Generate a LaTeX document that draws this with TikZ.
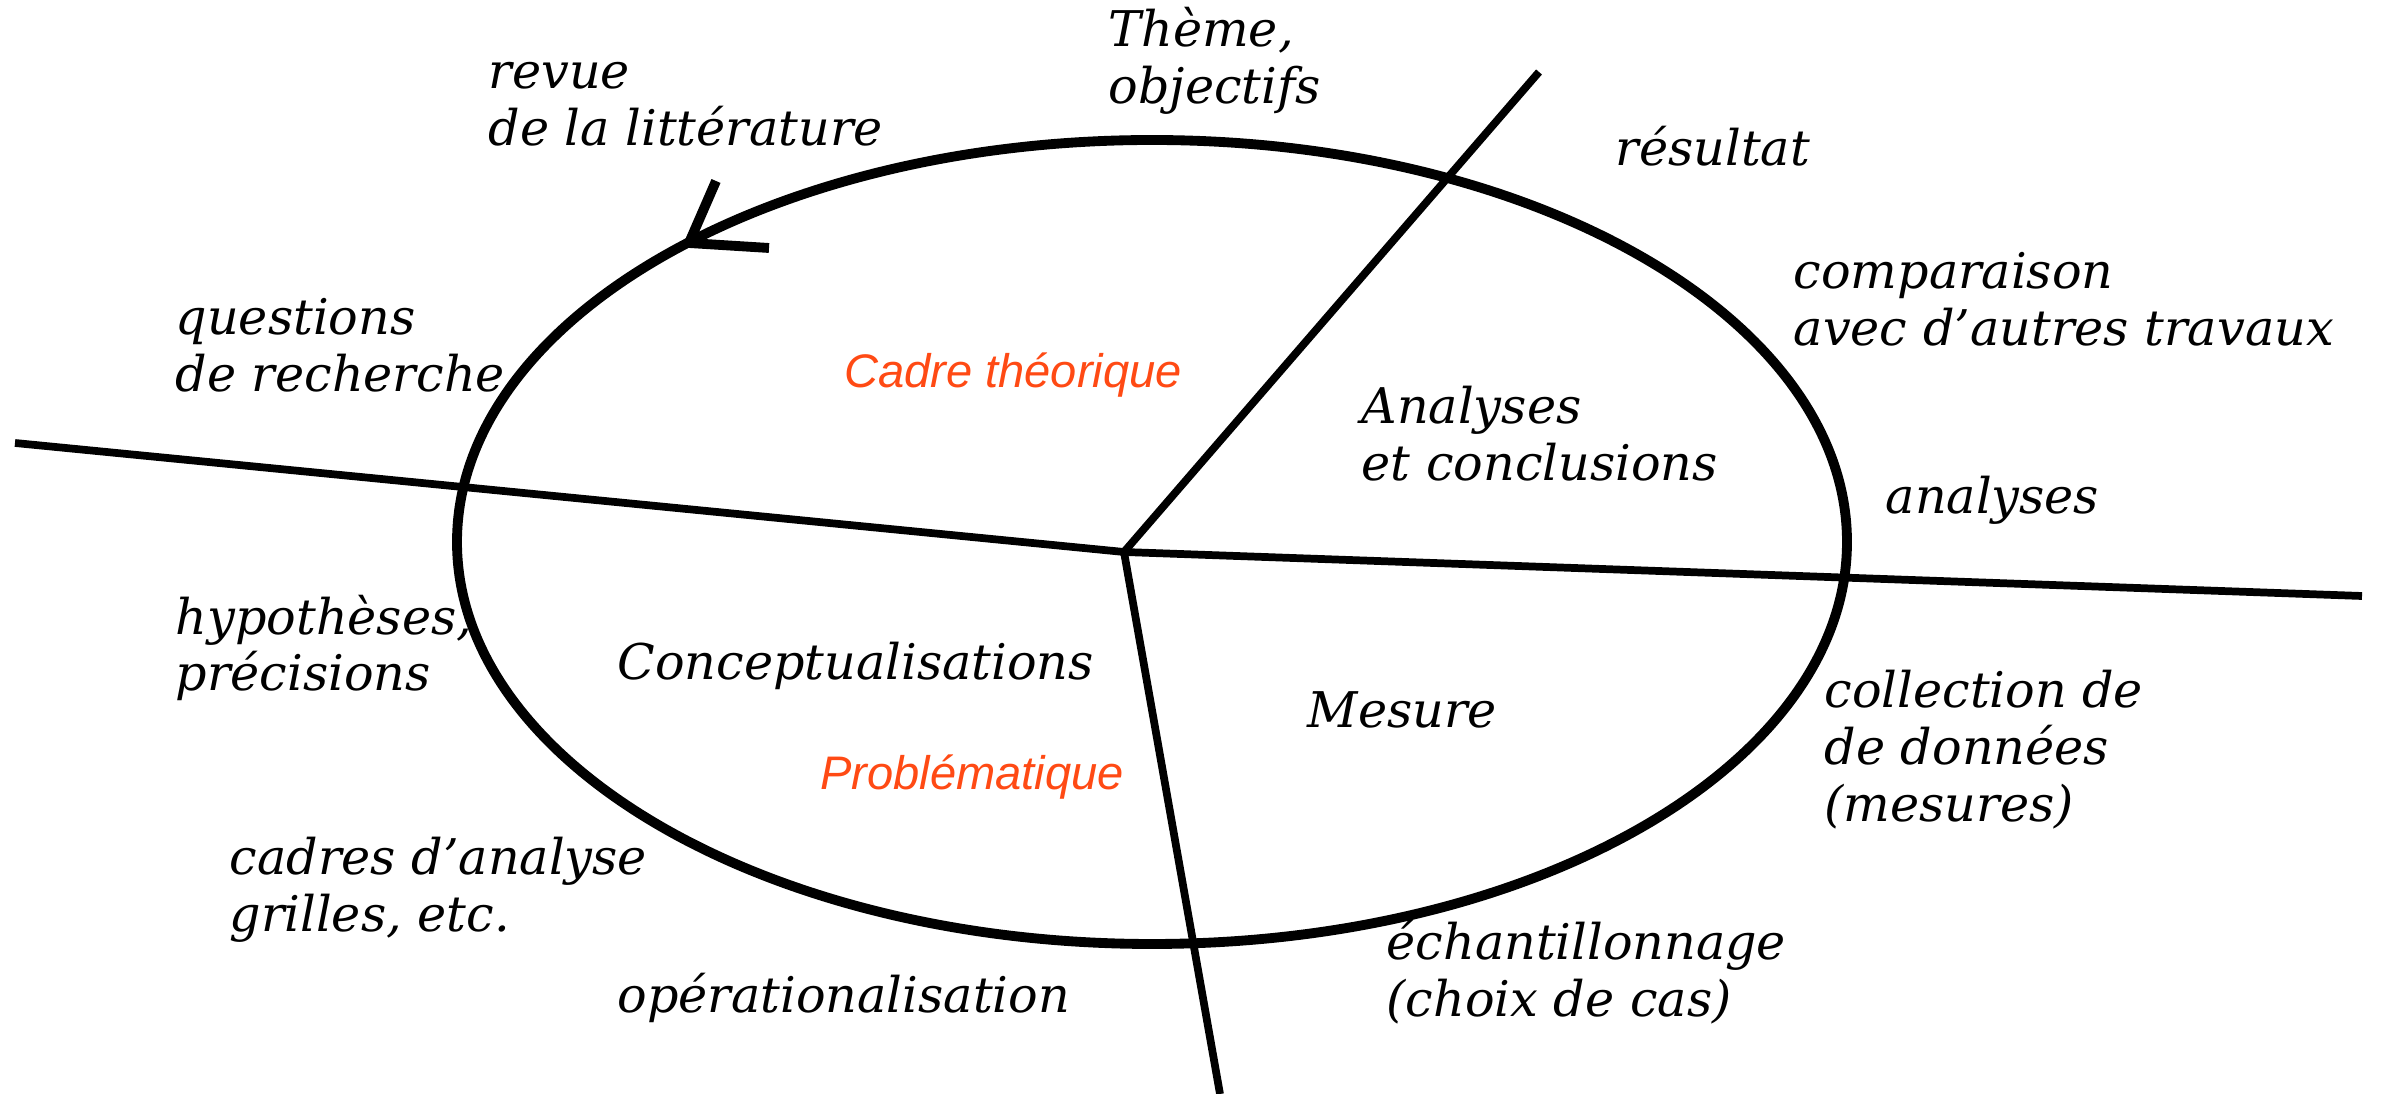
\documentclass[tikz,border=0pt]{standalone}
\usepackage{fontspec}
\setmainfont{DejaVu Serif}
\newfontfamily\zonefont{Liberation Sans}
\definecolor{ZoneRed}{HTML}{FF4A14}

\begin{document}
\begin{tikzpicture}[x=1cm,y=1cm,
    every node/.style={font=\fontsize{14}{16.2}\selectfont\itshape,inner sep=0pt,align=left},
    lbl/.style={anchor=west},
    zone/.style={font=\fontsize{13.4}{16}\selectfont\zonefont\itshape,text=ZoneRed},
    axis/.style={line width=2.2pt},
    ring/.style={line width=2.8pt}]
  \useasboundingbox (0,0) rectangle (23.89,10.94);

  % ellipse and its four dividing lines
  \coordinate (mid) at (11.52,5.52);
  \coordinate (hub) at (11.24,5.42);
  \coordinate (endUp) at (15.39,10.22);
  \coordinate (endLeft) at (0.15,6.51);
  \coordinate (endRight) at (23.62,4.98);
  \coordinate (endDown) at (12.20,0.00);
  \draw[ring] (mid) ellipse [x radius=6.95,y radius=4.02];
  \draw[axis] (endLeft) -- (hub) -- (endRight);
  \draw[axis] (hub) -- (endUp);
  \draw[axis] (hub) -- (endDown);

  % arrowhead on the ring
  \coordinate (tip) at (6.89,8.51);
  \coordinate (barbUp) at (7.16,9.13);
  \coordinate (barbSide) at (7.69,8.46);
  \draw[ring] (barbUp) -- (tip) -- (barbSide);

  % labels outside
  \node[lbl] (theme) at (11.08,10.33) {Thème,\\objectifs};
  \node[lbl] (revue) at (4.88,9.90) {revue\\de la littérature};
  \node[lbl] (resultat) at (16.15,9.48) {résultat};
  \node[lbl] (compar) at (17.93,7.95) {comparaison\\avec d’autres travaux};
  \node[lbl] (questions) at (1.75,7.49) {questions\\de recherche};
  \node[lbl] (analyses) at (18.85,5.94) {analyses};
  \node[lbl] (hypo) at (1.75,4.46) {hypothèses,\\précisions};
  \node[lbl] (collect) at (18.24,3.44) {collection de\\de données\\(mesures)};
  \node[lbl] (cadres) at (2.29,2.04) {cadres d’analyse\\grilles, etc.};
  \node[lbl] (echant) at (13.86,1.22) {échantillonnage\\(choix de cas)};
  \node[lbl] (operat) at (6.17,0.96) {opérationalisation};

  % labels inside
  \node[lbl] (concl) at (13.61,6.60) {Analyses\\et conclusions};
  \node[lbl] (concept) at (6.17,4.28) {Conceptualisations};
  \node[lbl] (mesure) at (13.07,3.84) {Mesure};
  \node[zone] (cadre) at (10.13,7.19) {Cadre théorique};
  \node[zone] (probl) at (9.72,3.17) {Problématique};
\end{tikzpicture}
\end{document}
